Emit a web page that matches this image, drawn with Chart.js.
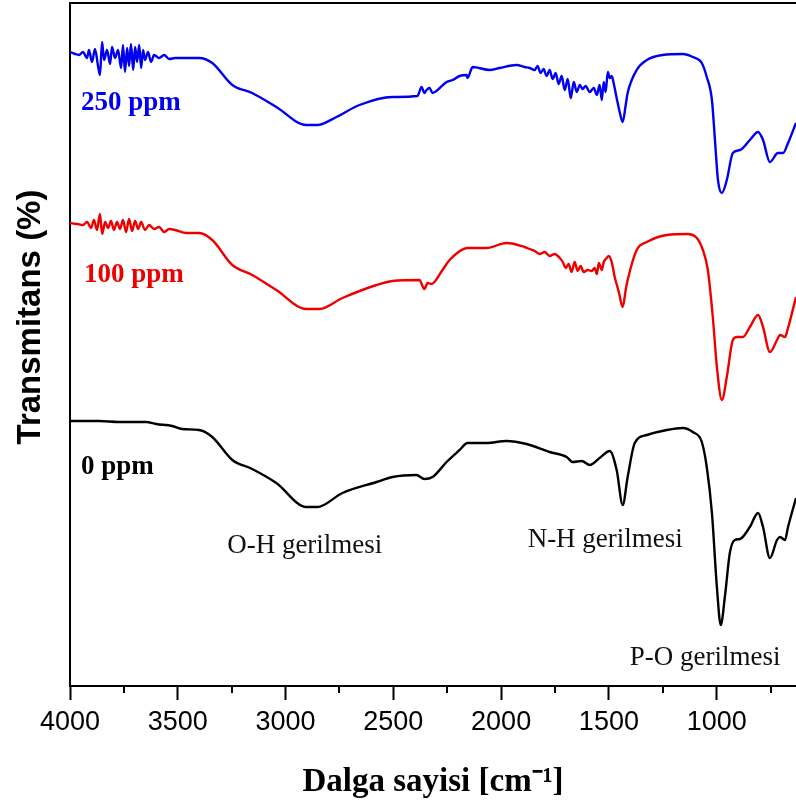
<!DOCTYPE html>
<html>
<head>
<meta charset="utf-8">
<script src="https://cdn.jsdelivr.net/npm/chart.js@4.4.1/dist/chart.umd.min.js"></script>
<style>
  html, body { margin: 0; padding: 0; background: #fff; }
  #wrap { width: 796px; height: 803px; }
</style>
</head>
<body>
<div id="wrap"><canvas id="ftirChart"></canvas></div>
<script>
// wavenumber (cm-1) and transmittance (arbitrary, offset stacked) per sample
var wn250 = [4000,3977,3958,3940,3921,3912,3898,3884,3870,3861,3851,3842,3828,3814,3805,3791,3777,3763,3754,3745,3735,3726,3717,3707,3698,3689,3679,3670,3661,3652,3638,3624,3610,3587,3563,3540,3512,3470,3401,3340,3247,3155,3043,2904,2853,2764,2657,2504,2388,2369,2356,2346,2332,2318,2300,2253,2225,2193,2160,2156,2132,2053,2007,1928,1891,1868,1844,1831,1817,1803,1789,1775,1761,1747,1733,1719,1705,1691,1677,1663,1649,1635,1622,1608,1589,1570,1556,1543,1533,1524,1515,1505,1496,1487,1477,1464,1450,1436,1422,1413,1371,1324,1250,1157,1111,1069,1046,1022,1008,994,976,953,925,892,846,808,785,753,716,692,669,632];
var t250  = [634,632,631,634,628,636,624,637,620,611,644,626,636,622,639,628,636,618,641,614,638,620,642,616,639,624,641,618,636,626,634,624,631,628,631,627,628,628,628,623,601,593,579,561,561,569,581,589,590,599,593,596,598,593,595,604,606,610,611,608,619,616,618,621,619,618,616,620,613,617,610,616,607,613,602,610,596,607,588,604,594,601,597,600,594,598,591,601,586,604,594,614,608,610,602,588,574,564,581,593,616,626,631,632,629,623,609,586,546,506,493,506,533,536,546,554,546,524,533,533,543,563];

var wn100 = [4000,3967,3940,3921,3902,3889,3875,3861,3851,3837,3823,3810,3796,3782,3768,3754,3740,3726,3712,3698,3684,3670,3652,3633,3610,3587,3563,3540,3512,3461,3401,3340,3247,3155,3043,2904,2843,2736,2578,2504,2379,2356,2341,2323,2272,2239,2156,2068,1975,1891,1868,1844,1821,1798,1775,1752,1728,1714,1700,1687,1673,1659,1645,1631,1617,1598,1580,1566,1556,1547,1533,1524,1510,1501,1487,1473,1454,1436,1422,1413,1371,1324,1231,1138,1092,1064,1041,1018,999,976,953,925,906,878,846,808,785,753,720,706,683,669,632];
var t100  = [463,462,461,464,458,466,456,472,452,464,458,465,456,464,457,466,454,467,455,465,457,464,456,461,457,459,454,457,456,453,453,446,421,411,396,377,377,388,401,405,406,397,403,402,416,426,438,438,443,439,437,435,432,434,430,432,428,424,418,422,414,424,415,420,414,416,415,418,412,423,416,424,428,430,424,409,394,379,396,406,436,444,451,452,448,436,416,369,319,286,309,346,349,349,359,371,359,334,346,351,349,358,389];

var wn0 = [4000,3865,3772,3647,3600,3526,3480,3401,3340,3247,3155,3043,2904,2853,2736,2578,2504,2393,2356,2318,2253,2193,2156,2068,1975,1882,1775,1696,1668,1626,1589,1543,1496,1464,1436,1413,1380,1324,1231,1157,1111,1069,1046,1022,999,981,962,939,916,892,846,808,785,753,720,706,683,669,632];
var t0  = [265,265,264,264,262,260,257,256,249,226,217,203,179,179,193,204,209,211,207,209,224,236,243,243,245,242,234,229,224,225,221,228,235,216,181,209,243,251,256,258,254,244,219,173,99,61,89,133,146,147,159,173,159,128,146,149,146,159,188];

var majorTicks = [4000, 3500, 3000, 2500, 2000, 1500, 1000];
var minorTicks = [3750, 3250, 2750, 2250, 1750, 1250, 750];

var seriesNames = ['250 ppm', '100 ppm', '0 ppm'];
var seriesColors = ['#0000ee', '#ee0000', '#000000'];

var notes = [
  { text: '250 ppm', wn: 3949, t: 576, color: '#0000ee', bold: true },
  { text: '100 ppm', wn: 3935, t: 404, color: '#ee0000', bold: true },
  { text: '0 ppm', wn: 3949, t: 212, color: '#000000', bold: true },
  { text: 'O-H gerilmesi', wn: 3271, t: 133, color: '#111', bold: false },
  { text: 'N-H gerilmesi', wn: 1877, t: 139, color: '#111', bold: false },
  { text: 'P-O gerilmesi', wn: 1403, t: 21, color: '#111', bold: false }
];

(function () {
  function pts(xs, ys) {
    return xs.map(function (x, i) { return { x: x, y: ys[i] }; });
  }

  var extras = {
    id: 'extras',
    afterDraw: function (chart) {
      var ctx = chart.ctx;
      var a = chart.chartArea;
      var xs = chart.scales.x;
      var ys = chart.scales.y;
      ctx.save();
      ctx.strokeStyle = '#000';
      ctx.lineWidth = 2;
      // top frame line
      ctx.beginPath();
      ctx.moveTo(a.left - 1, a.top);
      ctx.lineTo(a.right + 2, a.top);
      ctx.stroke();
      // minor ticks
      minorTicks.forEach(function (v) {
        var px = Math.round(xs.getPixelForValue(v));
        ctx.beginPath();
        ctx.moveTo(px, a.bottom);
        ctx.lineTo(px, a.bottom + 7);
        ctx.stroke();
      });
      // annotations
      ctx.textBaseline = 'alphabetic';
      ctx.textAlign = 'left';
      notes.forEach(function (n) {
        ctx.font = (n.bold ? 'bold ' : '') + '27px "Liberation Serif", "Times New Roman", serif';
        ctx.fillStyle = n.color;
        ctx.fillText(n.text, xs.getPixelForValue(n.wn), ys.getPixelForValue(n.t));
      });
      // y title
      ctx.translate(31, 317);
      ctx.rotate(-Math.PI / 2);
      ctx.textAlign = 'center';
      ctx.textBaseline = 'middle';
      ctx.font = 'bold 33px "Liberation Sans", Arial, sans-serif';
      ctx.fillStyle = '#000';
      ctx.fillText('Transmitans (%)', 0, 0);
      ctx.restore();
    }
  };

  var line = { borderWidth: 2.4, pointRadius: 0, cubicInterpolationMode: 'monotone', fill: false };

  var ctx = document.getElementById('ftirChart').getContext('2d');
  new Chart(ctx, {
    type: 'line',
    data: {
      datasets: [
        Object.assign({ label: seriesNames[0], data: pts(wn250, t250), borderColor: seriesColors[0] }, line),
        Object.assign({ label: seriesNames[1], data: pts(wn100, t100), borderColor: seriesColors[1] }, line),
        Object.assign({ label: seriesNames[2], data: pts(wn0, t0), borderColor: seriesColors[2] }, line)
      ]
    },
    options: {
      responsive: true, maintainAspectRatio: false, animation: false,
      layout: { padding: { left: 62, right: 0, top: 3, bottom: 1 } },
      plugins: { legend: { display: false }, tooltip: { enabled: false } },
      scales: {
        x: {
          type: 'linear', reverse: true, min: 632, max: 4000,
          afterBuildTicks: function (axis) {
            axis.ticks = majorTicks.map(function (v) { return { value: v }; });
          },
          grid: { display: true, drawOnChartArea: false, drawTicks: true, tickLength: 14, tickWidth: 2, tickColor: '#000' },
          border: { display: true, color: '#000', width: 2 },
          ticks: { color: '#000', padding: 6, maxRotation: 0, autoSkip: false,
                   callback: function (v) { return String(v); },
                   font: { family: '"Liberation Sans", Arial, sans-serif', size: 27 } },
          title: { display: true, text: 'Dalga sayisi [cm\u207B\u00B9]', color: '#000',
                   padding: { top: 18, bottom: 0 },
                   font: { family: '"Liberation Serif", "Times New Roman", serif', size: 33, weight: 'bold' } }
        },
        y: {
          min: 0, max: 683,
          grid: { display: false },
          border: { display: true, color: '#000', width: 2 },
          ticks: { display: false }
        }
      }
    },
    plugins: [extras]
  });
})();
</script>
</body>
</html>
